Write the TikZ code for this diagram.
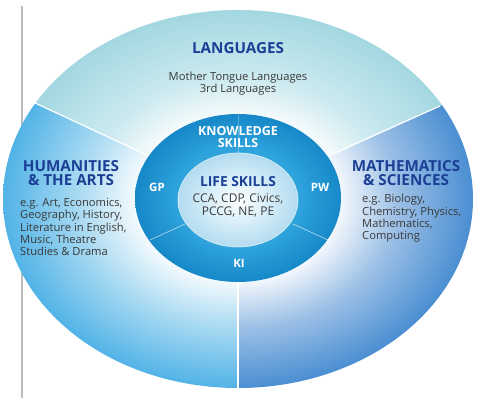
\documentclass[tikz,border=0pt]{standalone}
\usepackage{fontspec}
\setmainfont{Open Sans}
\definecolor{headblue}{HTML}{1B3F94}
\definecolor{bodygray}{HTML}{3A3A3A}
\definecolor{langedge}{HTML}{A3D8E1}
\definecolor{langmid}{HTML}{CDEAF0}
\definecolor{humedge}{HTML}{52B3E7}
\definecolor{hummid}{HTML}{A9DAF2}
\definecolor{mathedge}{HTML}{4A8ED2}
\definecolor{mathmid}{HTML}{9CC0E6}
\definecolor{ringin}{HTML}{2EA3DC}
\definecolor{ringout}{HTML}{1788C8}
\definecolor{coreedge}{HTML}{B3DCF0}
\definecolor{coremid}{HTML}{E4F4FB}
\definecolor{linegray}{HTML}{BDBDBD}
\pgfdeclareradialshading{langshade}{\pgfpoint{0bp}{0bp}}{color(0bp)=(white); color(10bp)=(white); color(16bp)=(langmid); color(25bp)=(langedge); color(50bp)=(langedge)}
\pgfdeclareradialshading{humshade}{\pgfpoint{0bp}{0bp}}{color(0bp)=(white); color(10bp)=(white); color(17bp)=(hummid); color(25bp)=(humedge); color(50bp)=(humedge)}
\pgfdeclareradialshading{mathshade}{\pgfpoint{0bp}{0bp}}{color(0bp)=(white); color(10bp)=(white); color(17bp)=(mathmid); color(25bp)=(mathedge); color(50bp)=(mathedge)}
\pgfdeclareradialshading{ringshade}{\pgfpoint{0bp}{0bp}}{color(0bp)=(ringin); color(15bp)=(ringin); color(25bp)=(ringout); color(50bp)=(ringout)}
\pgfdeclareradialshading{coreshade}{\pgfpoint{0bp}{0bp}}{color(0bp)=(white); color(8bp)=(coremid); color(25bp)=(coreedge); color(50bp)=(coreedge)}
\tikzset{
  head/.style={font=\fontsize{15.2}{14}\selectfont\bfseries, text=headblue, align=center, inner sep=0pt},
  body/.style={font=\fontsize{11.2}{12.3}\selectfont, text=bodygray, inner sep=0pt},
  ringtxt/.style={font=\fontsize{12.5}{12}\selectfont\bfseries, text=white, align=center, inner sep=0pt},
  divider/.style={draw=white, line width=1.2pt},
  ringdiv/.style={draw=white, draw opacity=0.55, line width=0.8pt},
}
\begin{document}
\begin{tikzpicture}[x=1pt,y=-1pt]
\useasboundingbox (0,0) rectangle (500,411);
\fill[white] (0,0) rectangle (500,411);
% side rule
\coordinate (rtop) at (22,6);
\coordinate (rbot) at (22,398);
\draw[linegray, line width=1.5pt] (rtop) -- (rbot);
% geometry
\coordinate (C) at (238,199);
\coordinate (ulo) at (35,103);
\coordinate (uli) at (147,155);
\coordinate (uro) at (440,106);
\coordinate (uri) at (330,155);
\coordinate (bo) at (238,388);
\coordinate (bi) at (238,283);
% sectors
\begin{scope}
  \clip (C) -- (-371,-89) -- (-371,-500) -- (844,-500) -- (844,-80) -- cycle;
  \shade[shading=langshade] (C) ellipse [x radius=235pt, y radius=189pt];
\end{scope}
\begin{scope}
  \clip (C) -- (-371,-89) -- (-371,800) -- (238,800) -- cycle;
  \shade[shading=humshade] (C) ellipse [x radius=235pt, y radius=189pt];
\end{scope}
\begin{scope}
  \clip (C) -- (844,-80) -- (844,800) -- (238,800) -- cycle;
  \shade[shading=mathshade] (C) ellipse [x radius=235pt, y radius=189pt];
\end{scope}
\draw[divider] (uli) -- (ulo);
\draw[divider] (uri) -- (uro);
\draw[divider] (bi) -- (bo);
% middle ring
\coordinate (RC) at (238,198);
\shade[shading=ringshade] (RC) ellipse [x radius=103pt, y radius=84pt];
\coordinate (kt1) at (238,115);
\coordinate (kt2) at (238,153);
\coordinate (l1) at (150,240);
\coordinate (l2) at (185,224);
\coordinate (r1) at (328,240);
\coordinate (r2) at (293,224);
\draw[ringdiv, draw opacity=0.3] (kt1) -- (kt2);
\draw[ringdiv] (l1) -- (l2);
\draw[ringdiv] (r1) -- (r2);
% core
\coordinate (CC) at (238,200);
\shade[shading=coreshade] (CC) ellipse [x radius=60pt, y radius=47pt];
\draw[white, opacity=0.6, line width=0.8pt] (CC) ellipse [x radius=60pt, y radius=47pt];
% texts
\node[head] (lang) at (238,48) {LANGUAGES};
\node[body, align=center] (langb) at (238,83.5) {Mother Tongue Languages\\3rd Languages};
\node[ringtxt] (know) at (238,137) {KNOWLEDGE\\SKILLS};
\node[head] (hum) at (71,173) {HUMANITIES\\\& THE ARTS};
\node[body, align=left, anchor=west] (humb) at (20,227) {e.g. Art, Economics,\\Geography, History,\\Literature in English,\\Music, Theatre\\Studies \& Drama};
\node[head] (math) at (406,173) {MATHEMATICS\\\& SCIENCES};
\node[body, align=left, anchor=west] (mathb) at (362,218.5) {e.g. Biology,\\Chemistry, Physics,\\Mathematics,\\Computing};
\node[ringtxt, font=\fontsize{11.5}{12}\selectfont\bfseries] (gp) at (157,187) {GP};
\node[ringtxt, font=\fontsize{11.5}{12}\selectfont\bfseries] (pw) at (320,187) {PW};
\node[ringtxt, font=\fontsize{11.5}{12}\selectfont\bfseries] (ki) at (239,263) {KI};
\node[head, font=\fontsize{13.8}{13}\selectfont\bfseries] (life) at (238,182) {LIFE SKILLS};
\node[body, align=center, font=\fontsize{12}{12.3}\selectfont] (lifeb) at (238,205.5) {CCA, CDP, Civics,\\PCCG, NE, PE};
\end{tikzpicture}
\end{document}
